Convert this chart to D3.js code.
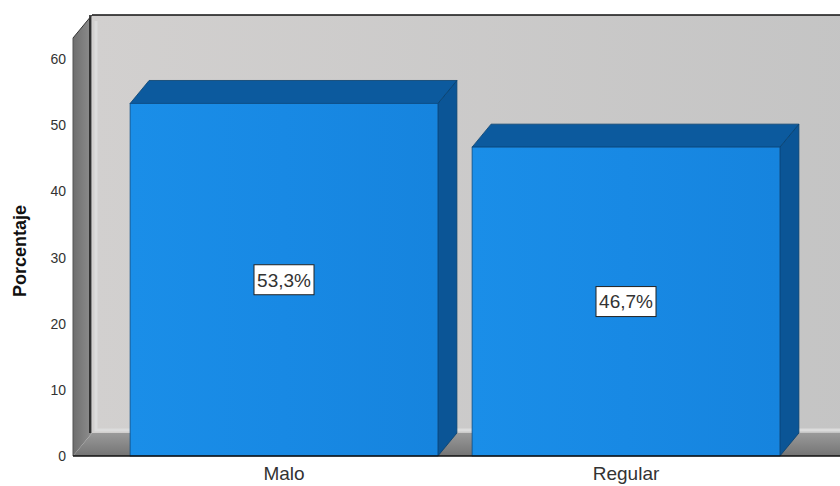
<!DOCTYPE html>
<html>
<head>
<meta charset="utf-8">
<script src="https://cdn.jsdelivr.net/npm/d3@7"></script>
<style>
  body { margin: 0; background: #fff; }
  text { font-family: "Liberation Sans", Arial, sans-serif; }
</style>
</head>
<body>
<div id="vis"></div>
<script>
// chart values
var categories = ["Malo", "Regular"];
var percentages = [53.3, 46.7];
var tickValues = [0, 10, 20, 30, 40, 50, 60];
var yTitle = "Porcentaje";

var width = 840,
    height = 486;

// front plane of the 3d box and the depth offset
var plotLeft = 73, plotBottom = 456, plotTop = 38;
var depthX = 19, depthY = -23;

var fmt = d3.formatLocale({decimal: ",", thousands: ".", grouping: [3], currency: ["", ""]}).format(".1f");

var svg = d3.select("#vis").append("svg")
    .attr("width", width)
    .attr("height", height);

var defs = svg.append("defs");

var g1 = defs.append("linearGradient").attr("id", "backWall").attr("x1", 0).attr("x2", 1).attr("y1", 0).attr("y2", 0);
g1.append("stop").attr("offset", "0").attr("stop-color", "#d2d0cf");
g1.append("stop").attr("offset", "1").attr("stop-color", "#c4c4c4");

var g2 = defs.append("linearGradient").attr("id", "leftWall").attr("x1", 0).attr("x2", 1).attr("y1", 0).attr("y2", 0);
g2.append("stop").attr("offset", "0").attr("stop-color", "#6e6e6e");
g2.append("stop").attr("offset", "1").attr("stop-color", "#8e8e8e");

var g3 = defs.append("linearGradient").attr("id", "floor").attr("x1", 0).attr("x2", 0).attr("y1", 0).attr("y2", 1);
g3.append("stop").attr("offset", "0").attr("stop-color", "#9a9a9a");
g3.append("stop").attr("offset", "1").attr("stop-color", "#747474");

var g4 = defs.append("linearGradient").attr("id", "barFront").attr("x1", 0).attr("x2", 1).attr("y1", 0).attr("y2", 0);
g4.append("stop").attr("offset", "0").attr("stop-color", "#1a8ee8");
g4.append("stop").attr("offset", "0.5").attr("stop-color", "#1889e4");
g4.append("stop").attr("offset", "1").attr("stop-color", "#1684de");

//--------SCALES--------//
var y = d3.scaleLinear()
    .domain([0, 63.2])
    .range([plotBottom, plotTop]);

var x = d3.scaleBand()
    .domain(categories)
    .range([113, 797])
    .paddingInner(0.1)
    .paddingOuter(0.05);

function pts(arr) {
    return arr.map(function(p) { return p.join(","); }).join(" ");
}

//--------WALLS--------//
var plotRight = width + 30;

svg.append("polygon")
    .attr("points", pts([[plotLeft + depthX, plotTop + depthY], [plotRight, plotTop + depthY], [plotRight, plotBottom + depthY], [plotLeft + depthX, plotBottom + depthY]]))
    .attr("fill", "url(#backWall)");

// lighter inner edge of the back wall
svg.append("polyline")
    .attr("points", pts([[plotLeft + depthX + 4, plotTop + depthY + 6], [plotLeft + depthX + 4, plotBottom + depthY - 3], [plotRight, plotBottom + depthY - 3]]))
    .attr("fill", "none")
    .attr("stroke", "#dcdcdc")
    .attr("stroke-width", 3);

svg.append("polygon")
    .attr("points", pts([[plotLeft, plotBottom], [plotLeft, plotTop], [plotLeft + depthX, plotTop + depthY], [plotLeft + depthX, plotBottom + depthY]]))
    .attr("fill", "url(#leftWall)");

svg.append("polygon")
    .attr("points", pts([[plotLeft, plotBottom], [plotLeft + depthX, plotBottom + depthY], [plotRight, plotBottom + depthY], [plotRight, plotBottom]]))
    .attr("fill", "url(#floor)");

// box outlines
svg.append("line")
    .attr("x1", plotLeft + depthX).attr("x2", plotRight)
    .attr("y1", plotTop + depthY).attr("y2", plotTop + depthY)
    .attr("stroke", "#111").attr("stroke-width", 1.5);

svg.append("line")
    .attr("x1", plotLeft + depthX - 2).attr("x2", plotLeft + depthX - 2)
    .attr("y1", plotTop + depthY).attr("y2", plotBottom + depthY)
    .attr("stroke", "#111").attr("stroke-width", 1.5);

svg.append("line")
    .attr("x1", plotLeft).attr("x2", plotLeft + depthX)
    .attr("y1", plotTop).attr("y2", plotTop + depthY)
    .attr("stroke", "#333").attr("stroke-width", 1);

svg.append("line")
    .attr("x1", plotLeft).attr("x2", plotLeft)
    .attr("y1", plotTop).attr("y2", plotBottom)
    .attr("stroke", "#555").attr("stroke-width", 1);

//--------BARS--------//
var bars = svg.selectAll(".bar")
    .data(categories.map(function(c, i) { return {cat: c, value: percentages[i]}; }))
    .enter()
    .append("g")
    .attr("class", "bar");

bars.append("polygon")
    .attr("points", function(d) {
        var x0 = x(d.cat), x1 = x0 + x.bandwidth(), yv = y(d.value);
        return pts([[x1, yv], [x1 + depthX, yv + depthY], [x1 + depthX, plotBottom + depthY], [x1, plotBottom]]);
    })
    .attr("fill", "#0b5596")
    .attr("stroke", "#08406f")
    .attr("stroke-width", 0.8);

bars.append("polygon")
    .attr("points", function(d) {
        var x0 = x(d.cat), x1 = x0 + x.bandwidth(), yv = y(d.value);
        return pts([[x0, yv], [x0 + depthX, yv + depthY], [x1 + depthX, yv + depthY], [x1, yv]]);
    })
    .attr("fill", "#0c5a9e")
    .attr("stroke", "#08406f")
    .attr("stroke-width", 0.8);

bars.append("rect")
    .attr("x", function(d) { return x(d.cat); })
    .attr("y", function(d) { return y(d.value); })
    .attr("width", x.bandwidth())
    .attr("height", function(d) { return plotBottom - y(d.value); })
    .attr("fill", "url(#barFront)")
    .attr("stroke", "#0a4c86")
    .attr("stroke-width", 0.8);

// front baseline
svg.append("line")
    .attr("x1", plotLeft).attr("x2", width)
    .attr("y1", plotBottom).attr("y2", plotBottom)
    .attr("stroke", "#111").attr("stroke-width", 1.5);

//--------DATA LABELS--------//
var lab = bars.append("g")
    .attr("transform", function(d) {
        return "translate(" + (x(d.cat) + x.bandwidth() / 2) + "," + ((y(d.value) + plotBottom) / 2) + ")";
    });

lab.append("rect")
    .attr("x", -30).attr("y", -15)
    .attr("width", 60).attr("height", 30)
    .attr("fill", "#fff")
    .attr("stroke", "#222")
    .attr("stroke-width", 1);

lab.append("text")
    .attr("text-anchor", "middle")
    .attr("dy", "0.36em")
    .style("font-size", "19px")
    .style("fill", "#333")
    .text(function(d) { return fmt(d.value) + "%"; });

//--------AXES--------//
var yAxis = svg.append("g")
    .attr("transform", "translate(" + plotLeft + ",0)")
    .call(d3.axisLeft(y).tickValues(tickValues).tickSize(0).tickPadding(7));
yAxis.select(".domain").remove();
yAxis.selectAll("text")
    .style("font-size", "14px")
    .style("font-family", "'Liberation Sans', Arial, sans-serif")
    .style("fill", "#333");

var xAxis = svg.append("g")
    .attr("transform", "translate(0," + plotBottom + ")")
    .call(d3.axisBottom(x).tickSize(0).tickPadding(11));
xAxis.select(".domain").remove();
xAxis.selectAll("text")
    .style("font-size", "19px")
    .style("font-family", "'Liberation Sans', Arial, sans-serif")
    .style("fill", "#333");

svg.append("text")
    .attr("transform", "translate(20," + 251 + ") rotate(-90)")
    .attr("text-anchor", "middle")
    .attr("dy", "0.35em")
    .style("font-size", "18px")
    .style("font-weight", "bold")
    .style("fill", "#111")
    .text(yTitle);
</script>
</body>
</html>
